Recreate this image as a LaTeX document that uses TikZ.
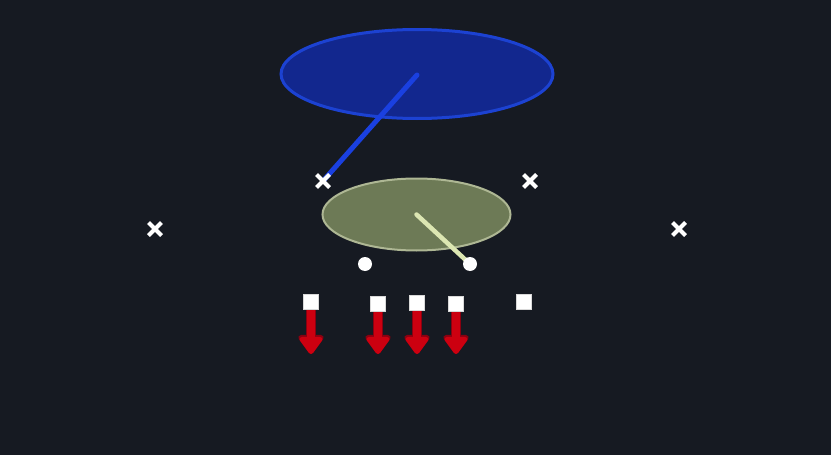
\documentclass[tikz,border=0pt]{standalone}
\usetikzlibrary{arrows.meta,shapes.geometric,shapes.misc}
\definecolor{bgc}{HTML}{161A22}
\definecolor{bluefill}{HTML}{12278E}
\definecolor{blueedge}{HTML}{1C42D2}
\definecolor{blueline}{HTML}{1A40E0}
\definecolor{greenfill}{HTML}{6D7A56}
\definecolor{greenedge}{HTML}{AEB794}
\definecolor{greenline}{HTML}{DCE6B2}
\definecolor{arrred}{HTML}{CC0010}
\definecolor{arrdark}{HTML}{8A0010}
\pgfdeclarelayer{back}
\pgfdeclarelayer{mid}
\pgfsetlayers{back,mid,main}
\tikzset{
  xmark/.style={cross out, draw=white, line width=4pt, minimum size=9pt, inner sep=0pt},
  dot/.style={circle, fill=white, minimum size=14pt, inner sep=0pt},
  sq/.style={rectangle, fill=white, draw=white!85!black, line width=0.6pt, minimum size=15pt, inner sep=0pt},
  redarrow/.style={draw=arrred, line width=8pt, -{Triangle[width=26pt,length=19pt,round]},
    preaction={draw=arrdark, line width=10.5pt, -{Triangle[width=29pt,length=21pt,round]}}},
  ell/.style={ellipse, inner sep=0pt}
}
\begin{document}
\begin{tikzpicture}[x=1pt,y=-1pt]
\begin{pgfonlayer}{back}
\fill[bgc] (0,0) rectangle (831,455);
\node[ell, fill=bluefill, draw=blueedge, line width=3pt, minimum width=272pt, minimum height=89pt] (blue) at (417,74) {};
\node[ell, fill=greenfill, draw=greenedge, line width=2pt, minimum width=188pt, minimum height=72pt] (green) at (416.5,214.5) {};
\end{pgfonlayer}
\useasboundingbox (0,0) rectangle (831,455);
% x marks
\node[xmark] (x1) at (323,181) {};
\node[xmark] (x2) at (530,181) {};
\node[xmark] (x3) at (155,229) {};
\node[xmark] (x4) at (679,229) {};
% circles
\node[dot] (c1) at (365,264) {};
\node[dot] (c2) at (470,264) {};
% squares
\node[sq] (s1) at (311,302) {};
\node[sq] (s2) at (378,304) {};
\node[sq] (s3) at (417,303) {};
\node[sq] (s4) at (456,304) {};
\node[sq] (s5) at (524,302) {};
\coordinate (t1) at (311,354);
\coordinate (t2) at (378,354);
\coordinate (t3) at (417,354);
\coordinate (t4) at (456,354);
\begin{pgfonlayer}{mid}
\draw[blueline, line width=5pt, line cap=round] (blue.center) ++(0,1) -- (x1.center);
\draw[greenline, line width=4.5pt, line cap=round] (green.center) -- (c2.center);
\draw[redarrow] (s1.south) -- (t1);
\draw[redarrow] (s2.south) -- (t2);
\draw[redarrow] (s3.south) -- (t3);
\draw[redarrow] (s4.south) -- (t4);
\end{pgfonlayer}
\end{tikzpicture}
\end{document}
